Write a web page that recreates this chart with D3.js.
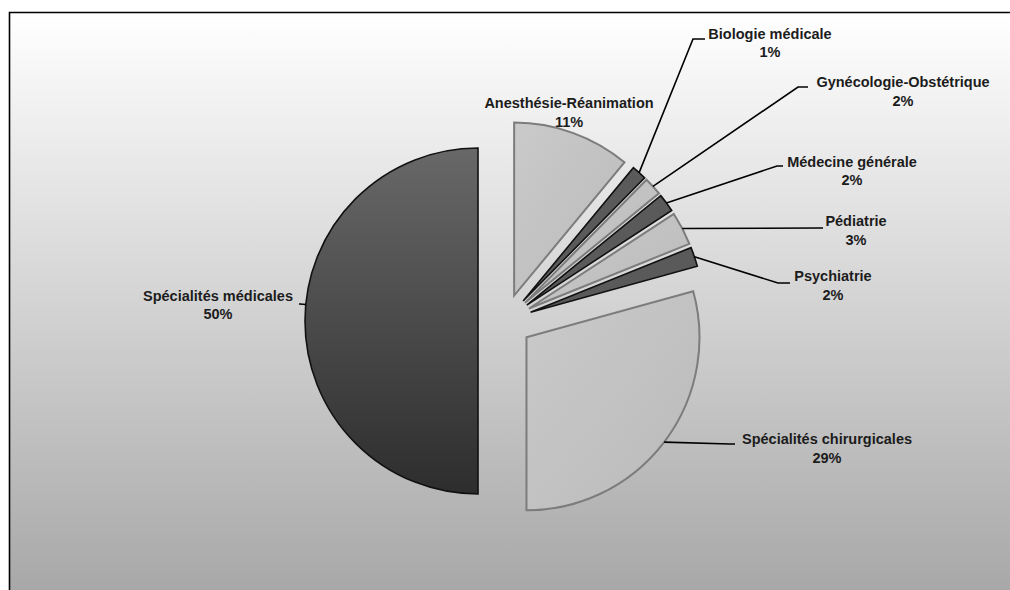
<!DOCTYPE html>
<html>
<head>
<meta charset="utf-8">
<script src="https://cdn.jsdelivr.net/npm/d3@7"></script>
<style>
  body { margin: 0; background: #fff; }
  svg text { font-family: "Liberation Sans", Arial, sans-serif; font-weight: bold; font-size: 14.5px; fill: #1c1c1c; }
</style>
</head>
<body>
<svg id="chart" width="1010" height="590"></svg>
<script>
// data (clockwise from 12 o'clock)
var categories = ['Anesthésie-Réanimation', 'Biologie médicale', 'Gynécologie-Obstétrique',
  'Médecine générale', 'Pédiatrie', 'Psychiatrie', 'Spécialités chirurgicales', 'Spécialités médicales']
var shares = [11.0, 1.4, 1.7, 1.7, 3.1, 1.8, 29.3, 50.0]
var shareLabels = ['11%', '1%', '2%', '2%', '3%', '2%', '29%', '50%']

// label placement (text centre, first baseline, leader elbow and end)
var labelLayout = [
  { x: 569, y: 108 },
  { x: 770, y: 38.5, ex: 693, ey: 39, tx: 705 },
  { x: 903, y: 87, ex: 798, ey: 87, tx: 808 },
  { x: 852, y: 166.5, ex: 777, ey: 166, tx: 783 },
  { x: 856, y: 226, ex: 820, ey: 228, tx: 823 },
  { x: 833, y: 281, ex: 778, ey: 283, tx: 790 },
  { x: 827, y: 444, ex: 730, ey: 444, tx: 735 },
  { x: 218, y: 300.5, ex: 300, ey: 304, tx: 299, snap: true }
]

var width = 1010, height = 590
var cx = 505, cy = 321
var radius = 173
var explode = 27
var lineGap = 18.5

var svg = d3.select('#chart')
var defs = svg.append('defs')

var bg = defs.append('linearGradient').attr('id', 'bg')
  .attr('x1', 0).attr('y1', 0).attr('x2', 0).attr('y2', 1)
bg.append('stop').attr('offset', '0%').attr('stop-color', '#ffffff')
bg.append('stop').attr('offset', '100%').attr('stop-color', '#a8a8a8')

var lightG = defs.append('linearGradient').attr('id', 'light')
  .attr('x1', 0).attr('y1', 0).attr('x2', 1).attr('y2', 1)
lightG.append('stop').attr('offset', '0%').attr('stop-color', '#cacaca')
lightG.append('stop').attr('offset', '100%').attr('stop-color', '#bababa')

var darkG = defs.append('linearGradient').attr('id', 'dark')
  .attr('x1', 0).attr('y1', 0).attr('x2', 0).attr('y2', 1)
darkG.append('stop').attr('offset', '0%').attr('stop-color', '#686868')
darkG.append('stop').attr('offset', '100%').attr('stop-color', '#2d2d2d')

// plot area background and its top/left border
svg.append('rect')
  .attr('x', 10).attr('y', 13)
  .attr('width', width - 10).attr('height', height - 13)
  .attr('fill', 'url(#bg)')
svg.append('path')
  .attr('d', 'M9.5,' + height + 'V12.5H' + width)
  .attr('fill', 'none').attr('stroke', '#000').attr('stroke-width', 1.6)

var pie = d3.pie().sort(null).value(function(d) { return d })
var arcs = pie(shares)
var arc = d3.arc().innerRadius(0).outerRadius(radius)

function offset(d) {
  var mid = (d.startAngle + d.endAngle) / 2
  return [cx + explode * Math.sin(mid), cy - explode * Math.cos(mid)]
}

function fillOf(i) {
  if (i === arcs.length - 1) return 'url(#dark)'
  return i % 2 === 0 ? 'url(#light)' : '#5a5a5a'
}

var slices = svg.append('g').selectAll('path')
  .data(arcs)
  .enter().append('path')
    .attr('transform', function(d) { var o = offset(d); return 'translate(' + o[0] + ',' + o[1] + ')' })
    .attr('d', arc)
    .attr('fill', function(d, i) { return fillOf(i) })
    .attr('stroke', function(d, i) { return i % 2 === 0 ? '#7c7c7c' : '#111' })
    .attr('stroke-width', function(d, i) { return i % 2 === 0 ? 2 : 1.6 })
    .attr('stroke-linejoin', 'miter')

// leader lines
function leaderStart(d, lp) {
  var o = offset(d)
  var a = (d.startAngle + d.endAngle) / 2
  if (lp.snap) {
    a = Math.atan2(lp.ex - o[0], -(lp.ey - o[1]))
    if (a < 0) a += 2 * Math.PI
  }
  return [o[0] + radius * Math.sin(a), o[1] - radius * Math.cos(a)]
}

var leaders = svg.append('g')
arcs.forEach(function(d, i) {
  var lp = labelLayout[i]
  if (lp.ex == null) return
  var s = leaderStart(d, lp)
  leaders.append('path')
    .attr('d', d3.line()([s, [lp.ex, lp.ey], [lp.tx, lp.ey]]))
    .attr('fill', 'none').attr('stroke', '#000').attr('stroke-width', 1.6)
})

// data labels
var labels = svg.append('g').selectAll('text')
  .data(categories)
  .enter().append('text')
    .attr('text-anchor', 'middle')
    .attr('x', function(d, i) { return labelLayout[i].x })
    .attr('y', function(d, i) { return labelLayout[i].y })
labels.append('tspan').text(function(d) { return d })
labels.append('tspan')
  .attr('x', function(d, i) { return labelLayout[i].x })
  .attr('dy', lineGap)
  .text(function(d, i) { return shareLabels[i] })
</script>
</body>
</html>
